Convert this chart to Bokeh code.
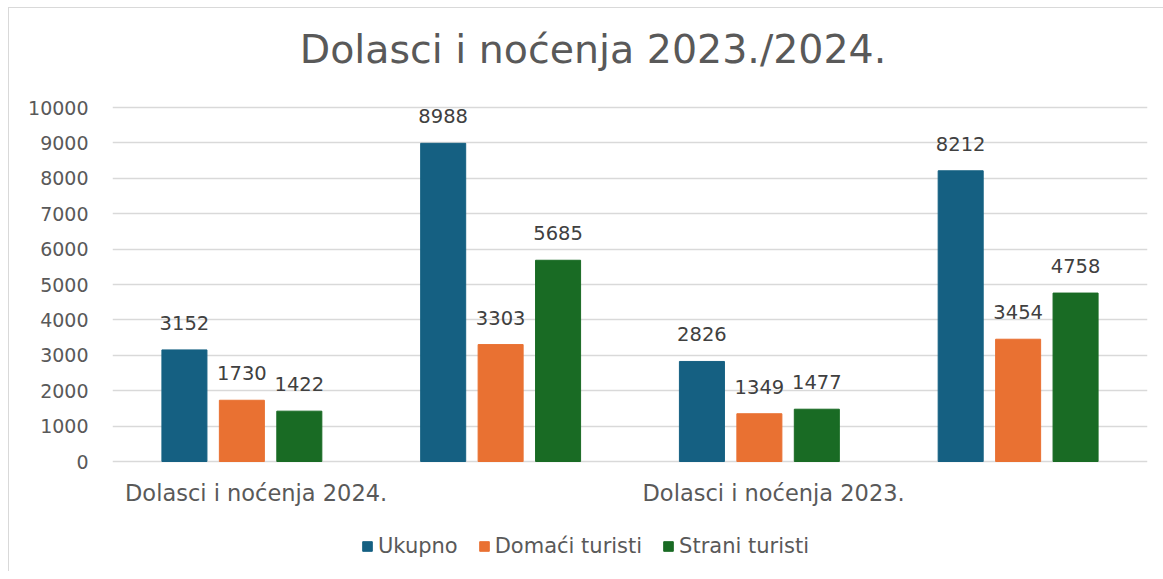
import numpy as np
from bokeh.plotting import figure
from bokeh.models import ColumnDataSource, FixedTicker, Legend, LegendItem, Range1d
from bokeh.core.properties import value
from bokeh.embed import file_html
from bokeh.resources import INLINE

title_text = "Dolasci i noćenja 2023./2024."
group_labels = ["Dolasci i noćenja 2024.", "", "Dolasci i noćenja 2023.", ""]
series_names = ["Ukupno", "Domaći turisti", "Strani turisti"]
ukupno = [3152, 8988, 2826, 8212]
domaci = [1730, 3303, 1349, 3454]
strani = [1422, 5685, 1477, 4758]
colors = ["#156082", "#E97132", "#196B24"]
y_ticks = list(range(0, 10001, 1000))

FONT = "DejaVu Sans"
TXT = "#595959"

# layout (pixels): value axis 0..10000 spans 354 px; frame extends 99 px above and 110 px below
AX_PX = 354
ABOVE_PX = 99
BELOW_PX = 110
y_max = y_ticks[-1]
per_px = y_max / AX_PX
y_range = Range1d(-BELOW_PX * per_px, y_max + ABOVE_PX * per_px)

p = figure(frame_width=1035, frame_height=AX_PX + ABOVE_PX + BELOW_PX,
           output_backend="svg", toolbar_location=None,
           x_range=Range1d(0, 4), y_range=y_range,
           min_border_left=103, min_border_right=16, min_border_top=0,
           min_border_bottom=0,
           styles={"margin-left": "8px", "margin-top": "7px",
                   "border-left": "1px solid #d9d9d9", "border-top": "1px solid #d9d9d9"})
p.outline_line_color = None

centers = np.arange(len(ukupno)) + 0.5
offsets = [-0.222, 0.0, 0.222]
bw = 0.174
renderers = []
for vals, off, col, name in zip([ukupno, domaci, strani], offsets, colors, series_names):
    src = ColumnDataSource(dict(x=centers + off, top=vals, lbl=[str(v) for v in vals]))
    r = p.vbar(x="x", top="top", width=bw, source=src, fill_color=col, line_color=col)
    renderers.append((name, r))
    p.text(x="x", y="top", text="lbl", source=src, text_align="center",
           text_baseline="bottom", y_offset=-20, text_font=value(FONT),
           text_font_size="19.5px", text_color="#404040")

# title (centred over the chart, above the value axis)
p.text(x=[float(np.mean(centers))], y=[y_max], text=[title_text], text_align="center",
       text_baseline="middle", x_offset=-37, y_offset=-59, text_font=value(FONT),
       text_font_size="39.5px", text_color=TXT)

# category labels under the axis
label_pos = [c + 0.055 for c in centers]
cat_src = ColumnDataSource(dict(x=[label_pos[0], label_pos[2]], y=[0, 0],
                                t=[group_labels[0], group_labels[2]]))
p.text(x="x", y="y", text="t", source=cat_src, text_align="center",
       text_baseline="middle", y_offset=31, text_font=value(FONT),
       text_font_size="22.5px", text_color=TXT)

# y axis
p.yaxis.ticker = FixedTicker(ticks=y_ticks)
p.yaxis.axis_line_color = None
p.yaxis.major_tick_line_color = None
p.yaxis.minor_tick_line_color = None
p.yaxis.major_label_text_font = FONT
p.yaxis.major_label_text_font_size = "19px"
p.yaxis.major_label_text_color = TXT
p.yaxis.major_label_standoff = 18
p.ygrid.grid_line_color = "#d9d9d9"
p.ygrid.grid_line_width = 1.5
p.ygrid.ticker = FixedTicker(ticks=y_ticks)

p.xaxis.visible = False
p.xgrid.grid_line_color = None

legend = Legend(items=[LegendItem(label=n, renderers=[r]) for n, r in renderers],
                orientation="horizontal", location=(249, 13),
                glyph_width=12, glyph_height=12, label_text_font=FONT,
                label_text_font_size="21px", label_text_color=TXT,
                spacing=20, label_standoff=5, border_line_color=None,
                background_fill_alpha=0, margin=0, padding=0)
p.add_layout(legend, "center")

open("out.html", "w").write(file_html(p, INLINE))
